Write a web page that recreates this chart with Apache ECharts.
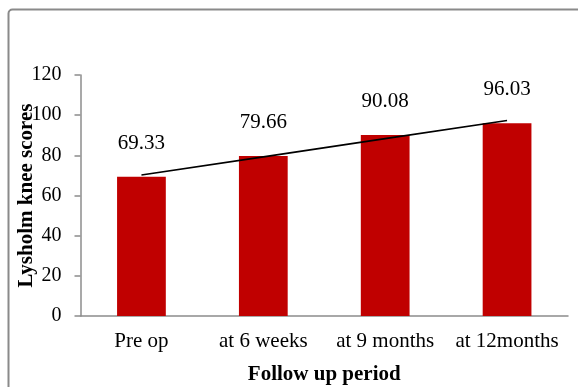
<!DOCTYPE html>
<html>
<head>
<meta charset="utf-8">
<script src="https://cdn.jsdelivr.net/npm/echarts@6/dist/echarts.min.js"></script>
<style>
  html, body { margin: 0; padding: 0; background: #ffffff; }
  #chart { width: 578px; height: 387px; }
</style>
</head>
<body>
<div id="chart"></div>
<script>
// Follow-up periods and mean Lysholm knee scores
const periods = ['Pre op', 'at 6 weeks', 'at 9 months', 'at 12months'];
const scores = [69.33, 79.66, 90.08, 96.03];
const yTicks = { min: 0, max: 120, interval: 20 };

// Least-squares linear trend through the scores
function linearTrend(values) {
  const n = values.length;
  const xs = values.map((_, i) => i + 1);
  const mx = xs.reduce((a, b) => a + b, 0) / n;
  const my = values.reduce((a, b) => a + b, 0) / n;
  let sxy = 0, sxx = 0;
  xs.forEach((x, i) => { sxy += (x - mx) * (values[i] - my); sxx += (x - mx) * (x - mx); });
  const slope = sxy / sxx;
  return xs.map(x => +(my + slope * (x - mx)).toFixed(3));
}
const trend = linearTrend(scores);

const FONT = '"Liberation Serif", "Times New Roman", serif';
const chart = echarts.init(document.getElementById('chart'), null, { renderer: 'canvas' });

chart.setOption({
  backgroundColor: '#ffffff',
  animation: false,
  textStyle: { fontFamily: FONT, color: '#000' },
  grid: { left: 80.5, right: 10, top: 75, bottom: 71, containLabel: false, outerBoundsMode: 'none' },
  graphic: [{
    type: 'rect',
    shape: { x: 8.5, y: 9.5, width: 640, height: 420, r: 4 },
    style: { fill: 'none', stroke: '#8a8a8a', lineWidth: 2 },
    silent: true
  }],
  xAxis: {
    type: 'category',
    data: periods,
    name: 'Follow up period',
    nameLocation: 'middle',
    nameGap: 48,
    nameMoveOverlap: false,
    nameTextStyle: { fontFamily: FONT, fontWeight: 'bold', fontSize: 21, color: '#000' },
    axisLine: { lineStyle: { color: '#8c8c8c', width: 1.5 } },
    axisTick: { show: false },
    axisLabel: { interval: 0, fontFamily: FONT, fontSize: 21, color: '#000', margin: 15 },
    splitLine: { show: false }
  },
  yAxis: {
    type: 'value',
    min: yTicks.min,
    max: yTicks.max,
    interval: yTicks.interval,
    name: 'Lysholm knee scores',
    nameLocation: 'middle',
    nameGap: 43,
    nameMoveOverlap: false,
    nameTextStyle: { fontFamily: FONT, fontWeight: 'bold', fontSize: 21, color: '#000' },
    axisLine: { show: true, lineStyle: { color: '#8c8c8c', width: 1.5 } },
    axisTick: { show: true, length: 6, lineStyle: { color: '#8c8c8c', width: 1.5 } },
    axisLabel: { fontFamily: FONT, fontSize: 20, color: '#000', margin: 19 },
    splitLine: { show: false }
  },
  series: [
    {
      type: 'bar',
      data: scores,
      barWidth: '40%',
      itemStyle: { color: '#c00000' },
      label: {
        show: true,
        position: 'top',
        distance: 23,
        fontFamily: FONT,
        fontSize: 21,
        color: '#000',
        formatter: p => p.value.toFixed(2)
      },
      z: 2
    },
    {
      type: 'line',
      data: trend,
      symbol: 'none',
      lineStyle: { color: '#000', width: 1.6 },
      silent: true,
      z: 3
    }
  ]
});
</script>
</body>
</html>
